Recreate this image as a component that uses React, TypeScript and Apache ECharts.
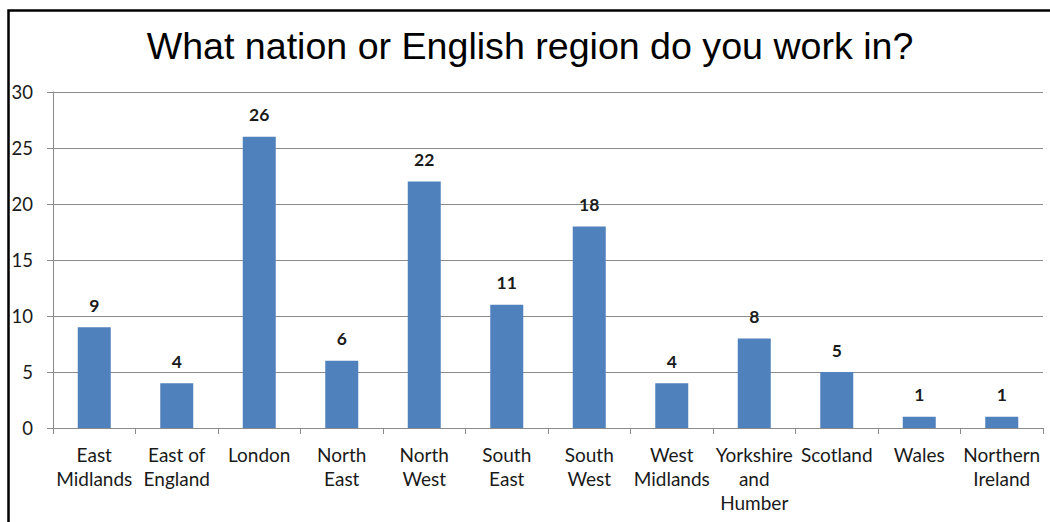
import React, { useEffect, useRef } from "react";
import * as echarts from "echarts";

const titleText = "What nation or English region do you work in?";
const categories = [
  "East Midlands",
  "East of England",
  "London",
  "North East",
  "North West",
  "South East",
  "South West",
  "West Midlands",
  "Yorkshire and Humber",
  "Scotland",
  "Wales",
  "Northern Ireland",
];
const wrappedLabels = [
  "East\nMidlands",
  "East of\nEngland",
  "London",
  "North\nEast",
  "North\nWest",
  "South\nEast",
  "South\nWest",
  "West\nMidlands",
  "Yorkshire\nand\nHumber",
  "Scotland",
  "Wales",
  "Northern\nIreland",
];
const counts = [9, 4, 26, 6, 22, 11, 18, 4, 8, 5, 1, 1];
const yMin = 0;
const yMax = 30;
const yStep = 5;

export default function App() {
  const ref = useRef<HTMLDivElement>(null);
  useEffect(() => {
    if (!ref.current) return;
    const chart = echarts.init(ref.current, null, { renderer: "svg" });
    const axisGray = "#8a8a8a";
    chart.setOption({
      animation: false,
      backgroundColor: "#fff",
      title: {
        text: titleText,
        left: 530,
        textAlign: "center",
        top: 27,
        padding: 0,
        textStyle: {
          fontFamily: "Liberation Sans",
          fontSize: 37.6,
          fontWeight: "normal",
          color: "#000",
          lineHeight: 37,
        },
      },
      graphic: [
        {
          type: "rect",
          shape: { x: 8.5, y: 10.5, width: 1100, height: 600 },
          style: { fill: "none", stroke: "#000", lineWidth: 2.5 },
          silent: true,
        },
      ],
      grid: { left: 53, right: 7, top: 92, bottom: 94, containLabel: false },
      xAxis: {
        type: "category",
        data: categories,
        axisLine: { show: true, lineStyle: { color: axisGray, width: 1 } },
        axisTick: { show: true, length: 6, lineStyle: { color: axisGray } },
        axisLabel: {
          interval: 0,
          margin: 14,
          fontFamily: "Lato",
          fontSize: 19,
          lineHeight: 24,
          color: "#1a1a1a",
          formatter: (v: string) => {
            const i = categories.indexOf(v);
            return i >= 0 ? wrappedLabels[i] : v;
          },
        },
      },
      yAxis: {
        type: "value",
        min: yMin,
        max: yMax,
        interval: yStep,
        axisLine: { show: true, lineStyle: { color: axisGray, width: 1 } },
        axisTick: { show: true, length: 6, lineStyle: { color: axisGray } },
        splitLine: { show: true, lineStyle: { color: axisGray, width: 1 } },
        axisLabel: {
          margin: 20,
          fontFamily: "Lato",
          fontSize: 18.5,
          color: "#1a1a1a",
        },
      },
      series: [
        {
          type: "bar",
          data: counts,
          barWidth: 33,
          itemStyle: { color: "#4F81BD" },
          label: {
            show: true,
            position: "top",
            distance: 13,
            fontFamily: "Lato",
            fontWeight: "bold",
            fontSize: 17.5,
            color: "#1a1a1a",
          },
        },
      ],
    });
    return () => chart.dispose();
  }, []);
  return (
    <div
      ref={ref}
      style={{ position: "absolute", left: 0, top: 0, width: 1050, height: 522 }}
    />
  );
}
